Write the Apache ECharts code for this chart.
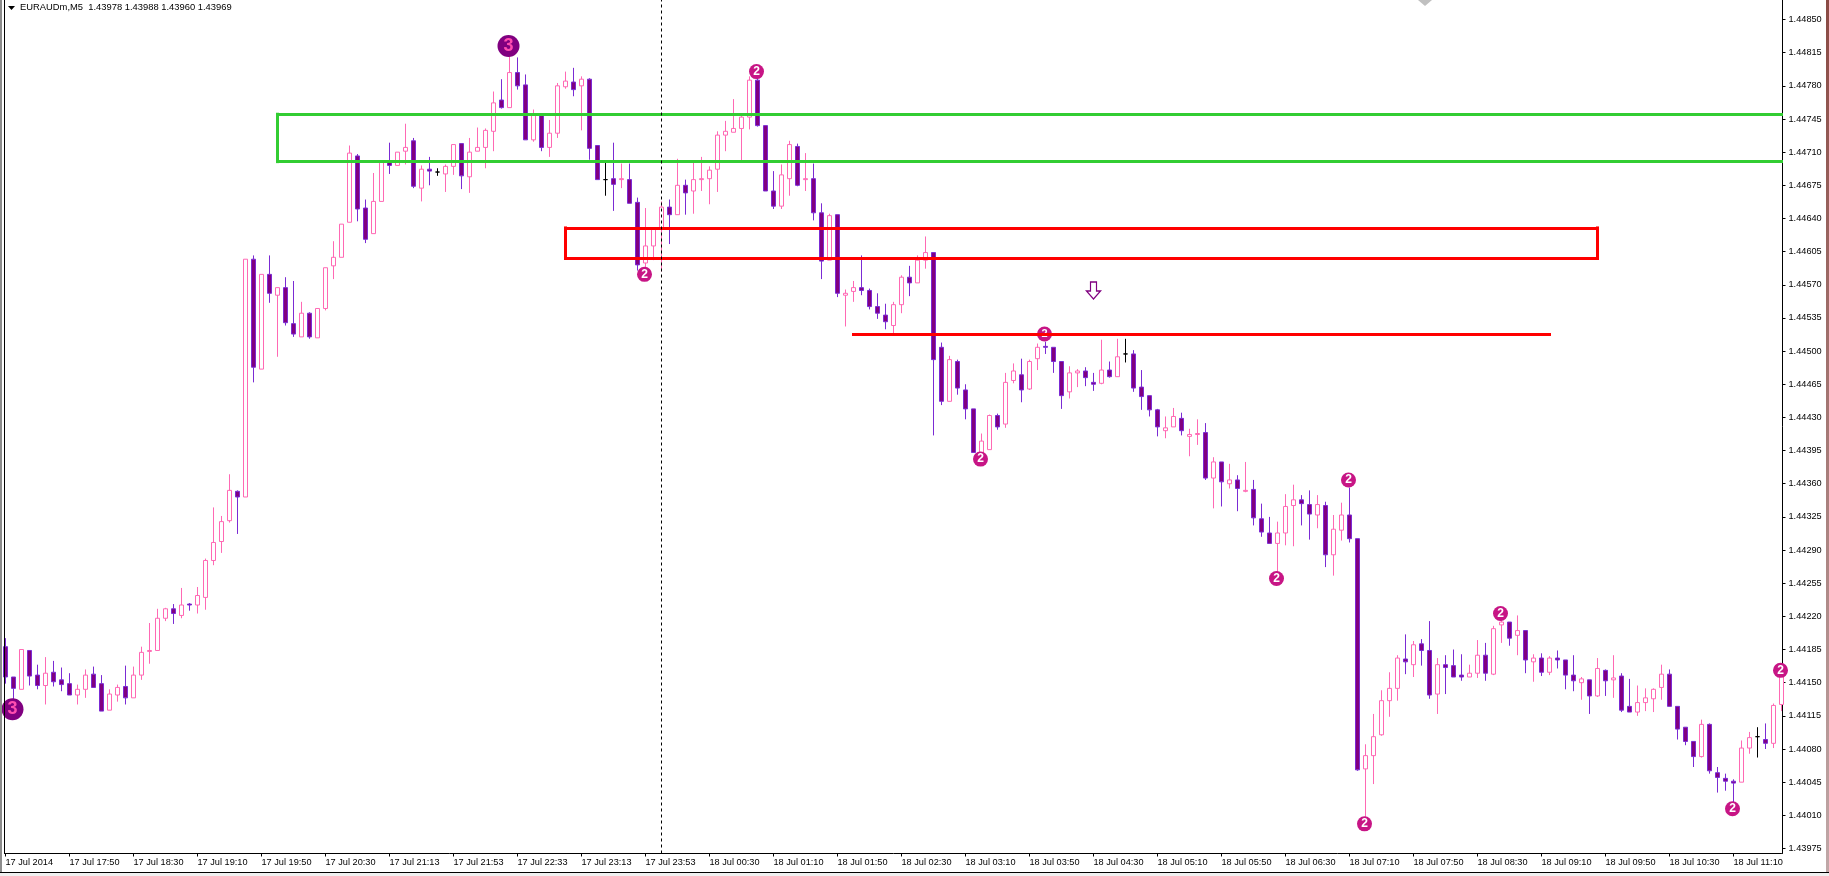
<!DOCTYPE html>
<html><head><meta charset="utf-8"><style>html,body{margin:0;padding:0;background:#fff}#c{width:1829px;height:876px}</style>
<script src="https://cdn.jsdelivr.net/npm/echarts@6/dist/echarts.min.js"></script></head><body><div id="c"></div>
<script>
const tickLabels=["17 Jul 2014","17 Jul 17:50","17 Jul 18:30","17 Jul 19:10","17 Jul 19:50","17 Jul 20:30","17 Jul 21:13","17 Jul 21:53","17 Jul 22:33","17 Jul 23:13","17 Jul 23:53","18 Jul 00:30","18 Jul 01:10","18 Jul 01:50","18 Jul 02:30","18 Jul 03:10","18 Jul 03:50","18 Jul 04:30","18 Jul 05:10","18 Jul 05:50","18 Jul 06:30","18 Jul 07:10","18 Jul 07:50","18 Jul 08:30","18 Jul 09:10","18 Jul 09:50","18 Jul 10:30","18 Jul 11:10"];
const priceTicks=[1.43975,1.44010,1.44045,1.44080,1.44115,1.44150,1.44185,1.44220,1.44255,1.44290,1.44325,1.44360,1.44395,1.44430,1.44465,1.44500,1.44535,1.44570,1.44605,1.44640,1.44675,1.44710,1.44745,1.44780,1.44815,1.44850];
const opens=[1.44188,1.44156,1.44143,1.44184,1.44158,1.44147,1.44161,1.44153,1.44149,1.44137,
1.44143,1.44159,1.44149,1.44121,1.44137,1.44146,1.44134,1.44158,1.44183,1.44184,
1.44218,1.44228,1.44221,1.44233,1.44232,1.44240,1.44279,1.44299,1.44321,1.44352,
1.44346,1.44597,1.44481,1.44581,1.44559,1.44567,1.44529,1.44515,1.44540,1.44514,
1.44545,1.44590,1.44599,1.44636,1.44706,1.44651,1.44624,1.44658,1.44699,1.44696,
1.44711,1.44722,1.44672,1.44692,1.44689,1.44687,1.44695,1.44719,1.44684,1.44711,
1.44715,1.44732,1.44765,1.44757,1.44794,1.44781,1.44723,1.44750,1.44715,1.44730,
1.44779,1.44784,1.44780,1.44787,1.44717,1.44681,1.44682,1.44681,1.44681,1.44657,
1.44593,1.44611,1.44630,1.44652,1.44644,1.44675,1.44669,1.44681,1.44682,1.44692,
1.44728,1.44731,1.44735,1.44747,1.44786,1.44738,1.44669,1.44653,1.44682,1.44716,
1.44681,1.44682,1.44646,1.44596,1.44644,1.44559,1.44563,1.44567,1.44564,1.44547,
1.44538,1.44527,1.44549,1.44578,1.44572,1.44596,1.44604,1.44504,1.44447,1.44489,
1.44459,1.44439,1.44393,1.44396,1.44432,1.44423,1.44469,1.44475,1.44460,1.44492,
1.44505,1.44504,1.44489,1.44457,1.44477,1.44479,1.44467,1.44466,1.44480,1.44473,
1.44497,1.44497,1.44462,1.44453,1.44438,1.44416,1.44420,1.44429,1.44410,1.44412,
1.44414,1.44366,1.44383,1.44360,1.44364,1.44352,1.44354,1.44323,1.44308,1.44297,
1.44308,1.44337,1.44343,1.44338,1.44327,1.44337,1.44285,1.44311,1.44327,1.44302,
1.44059,1.44073,1.44095,1.44131,1.44144,1.44175,1.44169,1.44191,1.44184,1.44138,
1.44169,1.44168,1.44158,1.44156,1.44160,1.44179,1.44159,1.44211,1.44214,1.44200,
1.44205,1.44172,1.44176,1.44161,1.44176,1.44174,1.44158,1.44150,1.44153,1.44136,
1.44163,1.44153,1.44157,1.44125,1.44119,1.44129,1.44133,1.44145,1.44159,1.44125,
1.44103,1.44088,1.44072,1.44106,1.44055,1.44049,1.44046,1.44045,1.44081,1.44093,
1.44090,1.44086,1.44127];
const closes=[1.44156,1.44144,1.44185,1.44157,1.44147,1.44160,1.44151,1.44148,1.44137,1.44143,
1.44158,1.44145,1.44120,1.44138,1.44145,1.44134,1.44158,1.44182,1.44184,1.44218,
1.44228,1.44223,1.44232,1.44232,1.44242,1.44279,1.44298,1.44320,1.44353,1.44346,
1.44597,1.44483,1.44581,1.44561,1.44567,1.44530,1.44518,1.44540,1.44515,1.44545,
1.44588,1.44599,1.44634,1.44709,1.44650,1.44618,1.44658,1.44700,1.44696,1.44710,
1.44715,1.44674,1.44692,1.44690,1.44689,1.44695,1.44718,1.44685,1.44710,1.44715,
1.44733,1.44762,1.44757,1.44794,1.44780,1.44723,1.44750,1.44715,1.44730,1.44780,
1.44785,1.44776,1.44787,1.44714,1.44681,1.44681,1.44676,1.44682,1.44656,1.44591,
1.44611,1.44629,1.44652,1.44644,1.44675,1.44667,1.44681,1.44682,1.44691,1.44728,
1.44732,1.44735,1.44747,1.44786,1.44738,1.44669,1.44653,1.44686,1.44718,1.44675,
1.44682,1.44646,1.44595,1.44643,1.44561,1.44561,1.44567,1.44564,1.44547,1.44540,
1.44531,1.44549,1.44578,1.44572,1.44596,1.44604,1.44491,1.44447,1.44491,1.44461,
1.44439,1.44393,1.44405,1.44432,1.44420,1.44467,1.44479,1.44459,1.44489,1.44504,
1.44504,1.44489,1.44453,1.44477,1.44479,1.44472,1.44465,1.44480,1.44473,1.44494,
1.44497,1.44461,1.44452,1.44438,1.44420,1.44419,1.44431,1.44416,1.44412,1.44413,
1.44366,1.44383,1.44362,1.44364,1.44355,1.44353,1.44324,1.44309,1.44297,1.44308,
1.44336,1.44343,1.44339,1.44328,1.44338,1.44285,1.44312,1.44327,1.44302,1.44058,
1.44073,1.44093,1.44131,1.44144,1.44176,1.44172,1.44190,1.44184,1.44137,1.44169,
1.44166,1.44156,1.44156,1.44160,1.44179,1.44160,1.44207,1.44214,1.44197,1.44205,
1.44174,1.44176,1.44161,1.44176,1.44174,1.44158,1.44152,1.44154,1.44136,1.44165,
1.44152,1.44155,1.44121,1.44119,1.44129,1.44134,1.44143,1.44159,1.44125,1.44101,
1.44088,1.44072,1.44106,1.44057,1.44050,1.44046,1.44044,1.44081,1.44092,1.44093,
1.44086,1.44126,1.44162];
const lows=[1.44149,1.44129,1.44143,1.44147,1.44143,1.44127,1.44146,1.44141,1.44137,1.44127,
1.44134,1.44145,1.44120,1.44121,1.44130,1.44127,1.44134,1.44153,1.44170,1.44184,
1.44215,1.44212,1.44218,1.44226,1.44223,1.44227,1.44274,1.44287,1.44319,1.44307,
1.44346,1.44467,1.44481,1.44551,1.44494,1.44527,1.44515,1.44515,1.44513,1.44514,
1.44543,1.44576,1.44599,1.44636,1.44637,1.44614,1.44624,1.44658,1.44687,1.44696,
1.44697,1.44672,1.44658,1.44675,1.44685,1.44668,1.44686,1.44671,1.44667,1.44711,
1.44693,1.44711,1.44756,1.44757,1.44776,1.44723,1.44721,1.44711,1.44705,1.44725,
1.44777,1.44769,1.44733,1.44702,1.44681,1.44664,1.44648,1.44672,1.44656,1.44585,
1.44586,1.44596,1.44584,1.44613,1.44644,1.44644,1.44645,1.44669,1.44655,1.44668,
1.44711,1.44731,1.44701,1.44734,1.44737,1.44669,1.44650,1.44650,1.44664,1.44674,
1.44669,1.44638,1.44576,1.44596,1.44557,1.44526,1.44552,1.44559,1.44544,1.44534,
1.44523,1.44518,1.44540,1.44558,1.44572,1.44587,1.44411,1.44443,1.44447,1.44454,
1.44428,1.44393,1.44385,1.44396,1.44417,1.44419,1.44466,1.44446,1.44459,1.44480,
1.44497,1.44477,1.44439,1.44450,1.44462,1.44463,1.44458,1.44465,1.44472,1.44473,
1.44488,1.44457,1.44438,1.44431,1.44410,1.44408,1.44420,1.44411,1.44389,1.44401,
1.44364,1.44334,1.44336,1.44355,1.44331,1.44351,1.44316,1.44304,1.44297,1.44266,
1.44295,1.44294,1.44316,1.44301,1.44313,1.44272,1.44263,1.44300,1.44298,1.44057,
1.44005,1.44043,1.44094,1.44114,1.44131,1.44159,1.44156,1.44168,1.44133,1.44117,
1.44138,1.44156,1.44152,1.44156,1.44155,1.44152,1.44158,1.44192,1.44189,1.44179,
1.44160,1.44151,1.44157,1.44158,1.44165,1.44143,1.44141,1.44132,1.44117,1.44135,
1.44136,1.44134,1.44119,1.44119,1.44115,1.44120,1.44119,1.44132,1.44125,1.44090,
1.44084,1.44061,1.44071,1.44054,1.44034,1.44036,1.44023,1.44045,1.44075,1.44071,
1.44080,1.44081,1.44120];
const highs=[1.44197,1.44156,1.44185,1.44184,1.44169,1.44177,1.44173,1.44166,1.44160,1.44148,
1.44164,1.44167,1.44158,1.44143,1.44148,1.44168,1.44167,1.44188,1.44213,1.44228,
1.44229,1.44233,1.44250,1.44234,1.44251,1.44281,1.44335,1.44326,1.44370,1.44353,
1.44597,1.44601,1.44581,1.44601,1.44567,1.44578,1.44574,1.44552,1.44541,1.44545,
1.44588,1.44616,1.44634,1.44717,1.44708,1.44660,1.44688,1.44700,1.44720,1.44710,
1.44740,1.44725,1.44696,1.44705,1.44693,1.44697,1.44718,1.44719,1.44725,1.44736,
1.44735,1.44774,1.44787,1.44821,1.44810,1.44792,1.44755,1.44750,1.44744,1.44783,
1.44795,1.44799,1.44790,1.44788,1.44717,1.44701,1.44720,1.44698,1.44698,1.44662,
1.44651,1.44629,1.44658,1.44660,1.44703,1.44681,1.44700,1.44705,1.44695,1.44732,
1.44743,1.44766,1.44751,1.44790,1.44795,1.44738,1.44690,1.44697,1.44722,1.44719,
1.44709,1.44698,1.44656,1.44645,1.44644,1.44565,1.44574,1.44601,1.44566,1.44561,
1.44550,1.44552,1.44580,1.44590,1.44601,1.44621,1.44604,1.44509,1.44495,1.44491,
1.44465,1.44439,1.44413,1.44433,1.44434,1.44477,1.44487,1.44492,1.44491,1.44508,
1.44510,1.44504,1.44489,1.44484,1.44481,1.44483,1.44477,1.44512,1.44489,1.44513,
1.44513,1.44501,1.44480,1.44453,1.44439,1.44431,1.44440,1.44435,1.44418,1.44428,
1.44424,1.44388,1.44383,1.44381,1.44369,1.44383,1.44364,1.44339,1.44325,1.44320,
1.44349,1.44359,1.44348,1.44353,1.44348,1.44341,1.44327,1.44340,1.44356,1.44302,
1.44085,1.44117,1.44142,1.44161,1.44179,1.44201,1.44194,1.44196,1.44215,1.44176,
1.44179,1.44185,1.44180,1.44169,1.44195,1.44192,1.44210,1.44220,1.44214,1.44221,
1.44205,1.44180,1.44181,1.44178,1.44184,1.44174,1.44179,1.44156,1.44153,1.44176,
1.44164,1.44179,1.44160,1.44154,1.44147,1.44144,1.44144,1.44169,1.44164,1.44125,
1.44103,1.44088,1.44111,1.44107,1.44061,1.44054,1.44048,1.44089,1.44098,1.44103,
1.44107,1.44128,1.44164];
const badge2=[[80,1.44581],[94,1.44795],[122,1.44386],[159,1.44260],[168,1.44364],[170,1.44001],[187,1.44223],[216,1.44017],[222,1.44163]];
const badge2Behind=[[130,1.44518]];
const badge3=[[1,1.44122],[63,1.44822]];
const arrow=[[136,1.44564]];
const greenZone={from:34,to:222,top:1.44750,bottom:1.44700};
const redZone={from:70,to:199,top:1.44630,bottom:1.44598};
const redLine={from:106,to:193,price:1.44518};
const crosshair=82;
const yMin=1.439697,yMax=1.448706;

const categories=opens.map((_,i)=>String(i));
const candles=opens.map((o,i)=>[o,closes[i],lows[i],highs[i]]);
const seg=(x1,y1,x2,y2)=>[{coord:[x1,y1]},{coord:[x2,y2]}];
const FONT='"Liberation Sans"';
const chart=echarts.init(document.getElementById('c'),null,{renderer:'canvas'});
chart.setOption({
 animation:false,backgroundColor:'#fff',
 title:{text:'EURAUDm,M5  1.43978 1.43988 1.43960 1.43969',left:20,top:3,padding:0,textStyle:{fontFamily:FONT,fontSize:9.4,fontWeight:'normal',color:'#000'}},
 grid:{left:5.5,top:0,width:1776,height:853.5},
 xAxis:{type:'category',data:categories,boundaryGap:false,
  axisLine:{lineStyle:{color:'#000',width:1}},
  axisTick:{interval:7,length:3,lineStyle:{color:'#000'}},
  axisLabel:{interval:7,align:'left',margin:4,hideOverlap:false,color:'#000',fontFamily:FONT,fontSize:9.2,formatter:(v,i)=>tickLabels[i/8]||''},
  splitLine:{show:false}},
 yAxis:{type:'value',position:'right',offset:1,min:yMin,max:yMax,scale:true,
  axisLine:{show:true,lineStyle:{color:'#000',width:1}},
  axisTick:{show:true,length:3,customValues:priceTicks,lineStyle:{color:'#000'}},
  axisLabel:{margin:6,color:'#000',fontFamily:FONT,fontSize:9.2,customValues:priceTicks,padding:[0,0,2,0],formatter:v=>v.toFixed(5)},
  splitLine:{show:false}},
 series:[
  {type:'scatter',z:1,data:badge2Behind,symbol:'circle',symbolSize:15,symbolOffset:[-1,0],itemStyle:{color:'#C71585',opacity:1},label:{show:true,position:'inside',formatter:'2',color:'#fff',fontFamily:FONT,fontWeight:'bold',fontSize:11},silent:true},
  {type:'line',z:2,data:[],silent:true,markLine:{silent:true,symbol:['none','none'],label:{show:false},lineStyle:{type:'solid',width:3,color:'#32CD32',cap:'square',opacity:1},
    data:[seg(greenZone.from,greenZone.top,greenZone.to,greenZone.top),seg(greenZone.from,greenZone.bottom,greenZone.to,greenZone.bottom),seg(greenZone.from,greenZone.top,greenZone.from,greenZone.bottom)]}},
  {type:'line',z:2,data:[],silent:true,markLine:{silent:true,symbol:['none','none'],label:{show:false},lineStyle:{type:'solid',width:3,color:'#FF0000',cap:'square',opacity:1},
    data:[seg(redZone.from,redZone.top,redZone.to,redZone.top),seg(redZone.from,redZone.bottom,redZone.to,redZone.bottom),seg(redZone.from,redZone.top,redZone.from,redZone.bottom),seg(redZone.to,redZone.top,redZone.to,redZone.bottom),seg(redLine.from,redLine.price,redLine.to,redLine.price)]}},
  {type:'candlestick',z:3,data:candles,barWidth:5,clip:true,silent:true,
   itemStyle:{color:'#fff',color0:'#800080',borderColor:'#FF69B4',borderColor0:'#7B2BD4',borderColorDoji:'#000',borderWidth:1}},
  {type:'scatter',z:4,data:badge2,symbol:'circle',symbolSize:15,symbolOffset:[-1,0],clip:true,silent:true,itemStyle:{color:'#C71585',opacity:1},label:{show:true,position:'inside',formatter:'2',color:'#fff',fontFamily:FONT,fontWeight:'bold',fontSize:12}},
  {type:'scatter',z:4,data:badge3,symbol:'circle',symbolSize:22,symbolOffset:[-1,0],clip:true,silent:true,itemStyle:{color:'#800080',opacity:1},label:{show:true,position:'inside',formatter:'3',color:'#FF4DB0',fontFamily:FONT,fontWeight:'bold',fontSize:18}},
  {type:'scatter',z:4,data:arrow,symbol:'path://M4 0H10V9H14L7 17L0 9H4Z',symbolSize:[14,17],silent:true,itemStyle:{color:'#fff',borderColor:'#800080',borderWidth:1.3,opacity:1}},
  {type:'line',z:5,data:[],silent:true,markLine:{silent:true,symbol:['none','none'],label:{show:false},lineStyle:{type:[3,3],width:1,color:'#000',opacity:1},data:[{xAxis:crosshair}]}}
 ],
 graphic:[
  {type:'rect',z:100,shape:{x:0,y:0,width:2,height:876},style:{fill:'#8c8c8c'}},
  {type:'rect',z:100,shape:{x:4,y:0,width:1,height:854},style:{fill:'#000'}},
  {type:'polygon',z:100,shape:{points:[[8,6],[15,6],[11.5,10]]},style:{fill:'#000'}},
  {type:'polygon',z:100,shape:{points:[[1425,-6],[1432,0],[1425,6],[1418,0]]},style:{fill:'#c0c0c0'}},
  {type:'rect',z:100,shape:{x:0,y:872,width:1829,height:1},style:{fill:'#000'}},
  {type:'rect',z:100,shape:{x:0,y:873,width:1829,height:3},style:{fill:'#f0f0f0'}},
  {type:'rect',z:100,shape:{x:1826,y:0,width:3,height:872},style:{fill:new echarts.graphic.LinearGradient(0,0,0,1,[{offset:0,color:'#8a4a44'},{offset:1,color:'#c0a8a8'}])}}
 ]
});
</script></body></html>
